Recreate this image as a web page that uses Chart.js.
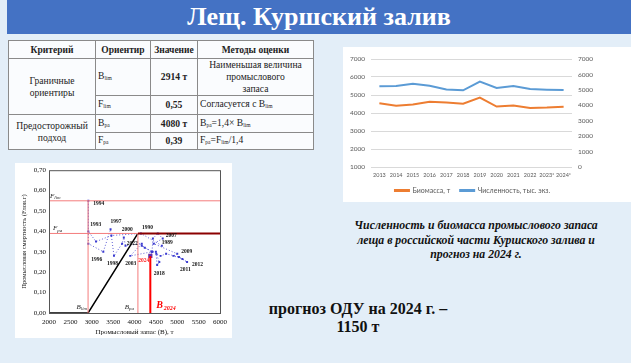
<!DOCTYPE html>
<html>
<head>
<meta charset="utf-8">
<script src="https://cdn.jsdelivr.net/npm/chart.js@4.4.1/dist/chart.umd.min.js"></script>
<style>
  body { margin: 0; width: 631px; height: 363px; overflow: hidden; position: relative;
         background: #e3eef8; font-family: "Liberation Serif", serif; }
  .title { position: absolute; left: 7px; top: 0; width: 624px; height: 34px; background: #4472c4;
           color: #fff; font-weight: bold; font-size: 26px; text-align: center; line-height: 34px; }
  table { position: absolute; left: 8px; top: 40px; width: 305px; border-collapse: collapse; table-layout: fixed;
          background: rgba(255,255,255,0.8); font-size: 9.6px; color: #222; }
  td, th { border: 1px solid #8a8a8a; padding: 0 2px; line-height: 12px; }
  th { height: 17px; font-size: 9.5px; }
  sub { font-size: 5.5px; vertical-align: -1px; }
  .box { position: absolute; background: #fff; }
  .caption { position: absolute; left: 330px; top: 218px; width: 292px; text-align: center;
             font-style: italic; font-weight: bold; font-size: 11.8px; line-height: 14.5px; color: #111; }
  .odu { position: absolute; left: 240px; top: 300px; width: 236px; text-align: center;
         font-weight: bold; font-size: 16px; line-height: 18px; color: #111; }
</style>
</head>
<body>
<div class="title">Лещ. Куршский залив</div>

<table>
  <colgroup><col style="width:87px"><col style="width:55px"><col style="width:47px"><col style="width:116px"></colgroup>
  <tr><th>Критерий</th><th>Ориентир</th><th>Значение</th><th>Методы оценки</th></tr>
  <tr style="height:37px"><td rowspan="2" style="text-align:center">Граничные<br>ориентиры</td><td>B<sub>lim</sub></td><td style="text-align:center"><b>2914 т</b></td><td style="text-align:center">Наименьшая величина<br>промыслового<br>запаса</td></tr>
  <tr style="height:19px"><td>F<sub>lim</sub></td><td style="text-align:center"><b>0,55</b></td><td>Согласуется с B<sub>lim</sub></td></tr>
  <tr style="height:18px"><td rowspan="2" style="text-align:center">Предосторожный<br>подход</td><td>B<sub>pa</sub></td><td style="text-align:center"><b>4080 т</b></td><td>B<sub>pa</sub>=1,4× B<sub>lim</sub></td></tr>
  <tr style="height:17px"><td>F<sub>pa</sub></td><td style="text-align:center"><b>0,39</b></td><td>F<sub>pa</sub>=F<sub>lim</sub>/1,4</td></tr>
</table>

<div class="box" style="left:343px;top:47px;width:288px;height:155px">
  <canvas id="trend-chart" width="288" height="160"></canvas>
</div>
<div class="box" style="left:15px;top:163px;width:217px;height:175px">
  <canvas id="pa-chart" width="217" height="175"></canvas>
</div>

<div class="caption">Численность и биомасса промыслового запаса<br>леща в российской части Куршского залива и<br>прогноз на 2024 г.</div>
<div class="odu">прогноз ОДУ на 2024 г. –<br>1150 т</div>

<script>
// --- trend chart data
const years = ['2013', '2014', '2015', '2016', '2017', '2018', '2019', '2020', '2021', '2022', '2023*', '2024*'];
const biomass = [4540, 4400, 4470, 4620, 4580, 4520, 4860, 4360, 4410, 4280, 4300, 4350];
const abundance = [5230, 5250, 5400, 5270, 5030, 4970, 5530, 5120, 5250, 5050, 5010, 4990];

// --- precautionary approach chart data
const Blim = 2914, Bpa = 4080, Flim = 0.55, Fpa = 0.39, B2024 = 4370, F2024 = 0.28;
const trajYears = [1989, 1990, 1991, 1992, 1993, 1994, 1995, 1996, 1997, 1998, 1999, 2000,
    2001, 2002, 2003, 2004, 2005, 2006, 2007, 2008, 2009, 2010, 2011, 2012,
    2013, 2014, 2015, 2016, 2017, 2018, 2019, 2020, 2021, 2022, 2023, 2024];
const trajB = [4640, 4150, 3460, 3100, 2920, 2920, 2920, 3270, 3440, 3520, 3710, 3750,
    3790, 4170, 3900, 4410, 4430, 4545, 4660, 4450, 5000, 4910, 5120, 5230,
    5040, 4740, 4610, 4510, 4580, 4530, 4500, 4400, 4240, 4170, 4420, 4370];
const trajF = [0.33, 0.39, 0.38, 0.35, 0.40, 0.55, 0.34, 0.30, 0.41, 0.28, 0.34, 0.37,
    0.33, 0.34, 0.28, 0.30, 0.365, 0.39, 0.365, 0.34, 0.29, 0.28, 0.265, 0.25,
    0.275, 0.29, 0.28, 0.29, 0.25, 0.235, 0.30, 0.30, 0.32, 0.33, 0.30, 0.28];
const xTicksMin = 2000, xTicksMax = 6000;

// label placement (px offset from the point, text align)
const labelOffsets = {
    1989: [0, -3, 'left'], 1990: [1, -6, 'left'], 1993: [2, -7, 'left'], 1994: [5, 3, 'left'],
    1996: [-1, 8, 'right'], 1997: [0, -8, 'left'], 1998: [-7, 8, 'left'], 2000: [-2, -8, 'left'],
    2003: [-5, 8, 'left'], 2007: [3, -3, 'left'], 2009: [4, -2, 'left'], 2011: [3, 11, 'center'],
    2012: [5, 3, 'left'], 2018: [2, 9, 'center'], 2022: [-4, -2, 'right'], 2024: [-1, 5, 'right']
};

function trendChart() {
    const tickFont = { family: 'Lato', size: 6.5 };
    new Chart(document.getElementById('trend-chart'), {
        type: 'line',
        data: {
            labels: years,
            datasets: [{
                label: 'Биомасса, т',
                data: biomass,
                yAxisID: 'y',
                borderColor: '#ed7d31',
                backgroundColor: '#ed7d31',
                borderWidth: 2,
                pointRadius: 0,
                tension: 0
            }, {
                label: 'Численность, тыс. экз.',
                data: abundance,
                yAxisID: 'y2',
                borderColor: '#5b9bd5',
                backgroundColor: '#5b9bd5',
                borderWidth: 2,
                pointRadius: 0,
                tension: 0
            }]
        },
        options: {
            responsive: false,
            animation: false,
            layout: { padding: { top: 12, right: 29, left: 0, bottom: 3 } },
            plugins: {
                legend: {
                    position: 'bottom',
                    labels: { boxWidth: 14, boxHeight: 1, padding: 10, color: '#595959', font: { family: 'Lato', size: 7 } }
                },
                tooltip: { enabled: false }
            },
            scales: {
                x: {
                    offset: true,
                    afterFit: s => { s.height = 10; },
                    grid: { display: false, drawTicks: false },
                    border: { display: false },
                    ticks: { color: '#595959', font: { family: 'Lato', size: 5.5 }, maxRotation: 0, autoSkip: false, padding: 5 }
                },
                y: {
                    min: 1000, max: 7000,
                    afterFit: s => { s.width = 28; },
                    grid: { color: '#d9d9d9', drawTicks: false },
                    border: { display: false },
                    ticks: { stepSize: 1000, color: '#595959', font: tickFont, padding: 6, callback: v => String(v) }
                },
                y2: {
                    position: 'right',
                    min: 0, max: 7000,
                    afterFit: s => { s.width = 30; },
                    grid: { display: false, drawTicks: false },
                    border: { display: false },
                    ticks: { stepSize: 1000, color: '#595959', font: tickFont, padding: 6, callback: v => String(v) }
                }
            }
        }
    });
}

function drawSub(ctx, main, sub, x, y, size, align) {
    ctx.font = 'italic ' + size + 'px "Liberation Serif"';
    const w1 = ctx.measureText(main).width;
    ctx.font = 'italic ' + (size * 0.7) + 'px "Liberation Serif"';
    const w2 = ctx.measureText(sub).width;
    let x0 = align === 'right' ? x - w1 - w2 : x;
    ctx.textAlign = 'left';
    ctx.font = 'italic ' + size + 'px "Liberation Serif"';
    ctx.fillText(main, x0, y);
    ctx.font = 'italic ' + (size * 0.7) + 'px "Liberation Serif"';
    ctx.fillText(sub, x0 + w1, y + size * 0.2);
}

const paLabels = {
    id: 'paLabels',
    afterDatasetsDraw(chart) {
        const ctx = chart.ctx, xs = chart.scales.x, ys = chart.scales.y, a = chart.chartArea;
        ctx.save();
        ctx.strokeStyle = '#555';
        ctx.lineWidth = 1;
        ctx.strokeRect(a.left + 0.5, a.top + 0.5, a.right - a.left, a.bottom - a.top);
        ctx.textBaseline = 'middle';
        trajYears.forEach((yr, i) => {
            const off = labelOffsets[yr];
            if (!off) return;
            ctx.font = 'bold 5.5px "Liberation Serif"';
            ctx.fillStyle = yr === 2024 ? '#ff2020' : '#111';
            ctx.textAlign = off[2];
            ctx.fillText(String(yr), xs.getPixelForValue(trajB[i]) + off[0], ys.getPixelForValue(trajF[i]) + off[1]);
        });
        ctx.fillStyle = '#222';
        ctx.textBaseline = 'alphabetic';
        drawSub(ctx, 'F', 'lim', a.left + 1, ys.getPixelForValue(Flim) - 3, 7, 'left');
        drawSub(ctx, 'F', 'pa', a.left + 4, ys.getPixelForValue(Fpa) - 3, 7, 'left');
        drawSub(ctx, 'B', 'lim', xs.getPixelForValue(Blim) - 1, a.bottom - 4, 7, 'right');
        drawSub(ctx, 'B', 'pa', xs.getPixelForValue(Bpa) - 4, a.bottom - 4, 7, 'right');
        ctx.fillStyle = '#ff0000';
        ctx.font = 'bold italic 10px "Liberation Serif"';
        const bx = xs.getPixelForValue(B2024) + 6;
        ctx.fillText('B', bx, a.bottom - 5);
        ctx.font = 'bold italic 6px "Liberation Serif"';
        ctx.fillText(' 2024', bx + 6, a.bottom - 3);
        ctx.restore();
    }
};

function paChart() {
    const serif = { family: 'Liberation Serif', size: 7 };
    const traj = trajYears.map((yr, i) => ({ x: trajB[i], y: trajF[i] }));
    new Chart(document.getElementById('pa-chart'), {
        type: 'scatter',
        data: {
            datasets: [
                { data: [{ x: xTicksMin, y: Flim }, { x: xTicksMax, y: Flim }], showLine: true, borderColor: '#f47c7c', borderWidth: 1, pointRadius: 0 },
                { data: [{ x: xTicksMin, y: Fpa }, { x: Bpa, y: Fpa }], showLine: true, borderColor: '#f47c7c', borderWidth: 1, pointRadius: 0 },
                { data: [{ x: Bpa, y: Fpa }, { x: xTicksMax, y: Fpa }], showLine: true, borderColor: '#8b0000', borderWidth: 2, pointRadius: 0 },
                { data: [{ x: Blim, y: 0 }, { x: Blim, y: Flim }], showLine: true, borderColor: '#f47c7c', borderWidth: 1, pointRadius: 0 },
                { data: [{ x: Bpa, y: 0 }, { x: Bpa, y: Fpa }], showLine: true, borderColor: '#f47c7c', borderWidth: 1, pointRadius: 0 },
                { data: [{ x: B2024, y: 0 }, { x: B2024, y: F2024 }], showLine: true, borderColor: '#ff0000', borderWidth: 2, pointRadius: 0 },
                { data: [{ x: xTicksMin, y: 0 }, { x: Blim, y: 0 }, { x: Bpa, y: Fpa }], showLine: true, borderColor: '#000', borderWidth: 1.5, pointRadius: 0 },
                { data: traj, showLine: true, borderColor: '#5b5bd6', borderWidth: 1, borderDash: [1, 2],
                  pointStyle: 'rect', pointRadius: 1.4, pointBackgroundColor: '#3a3ad0', pointBorderWidth: 0 },
                { data: [{ x: B2024, y: F2024 }], pointStyle: 'rect', pointRadius: 3, pointBackgroundColor: '#7030a0', pointBorderWidth: 0 }
            ]
        },
        options: {
            responsive: false,
            animation: false,
            layout: { padding: { top: 7, right: 9, left: 0, bottom: 2 } },
            plugins: { legend: { display: false }, tooltip: { enabled: false } },
            scales: {
                x: {
                    type: 'linear', min: xTicksMin, max: xTicksMax,
                    afterFit: s => { s.height = 23; },
                    grid: { display: false, drawTicks: false },
                    border: { display: false },
                    ticks: { stepSize: 500, color: '#111', font: serif, padding: 5, callback: v => String(v) },
                    title: { display: true, text: 'Промысловый запас (B), т', color: '#111', font: { family: 'Liberation Serif', size: 7 }, padding: 0 }
                },
                y: {
                    min: 0, max: 0.7,
                    afterFit: s => { s.width = 34; },
                    grid: { display: false, drawTicks: false },
                    border: { display: false },
                    ticks: { stepSize: 0.05, color: '#111', font: serif, padding: 3,
                             callback: v => v.toFixed(2).replace('.', ',') },
                    title: { display: true, text: 'Промысловая смертность (Fлов.г)', color: '#111', font: { family: 'Liberation Serif', size: 6.5 }, padding: { top: 5, bottom: 0 } }
                }
            }
        },
        plugins: [paLabels]
    });
}

trendChart();
paChart();
</script>
</body>
</html>
